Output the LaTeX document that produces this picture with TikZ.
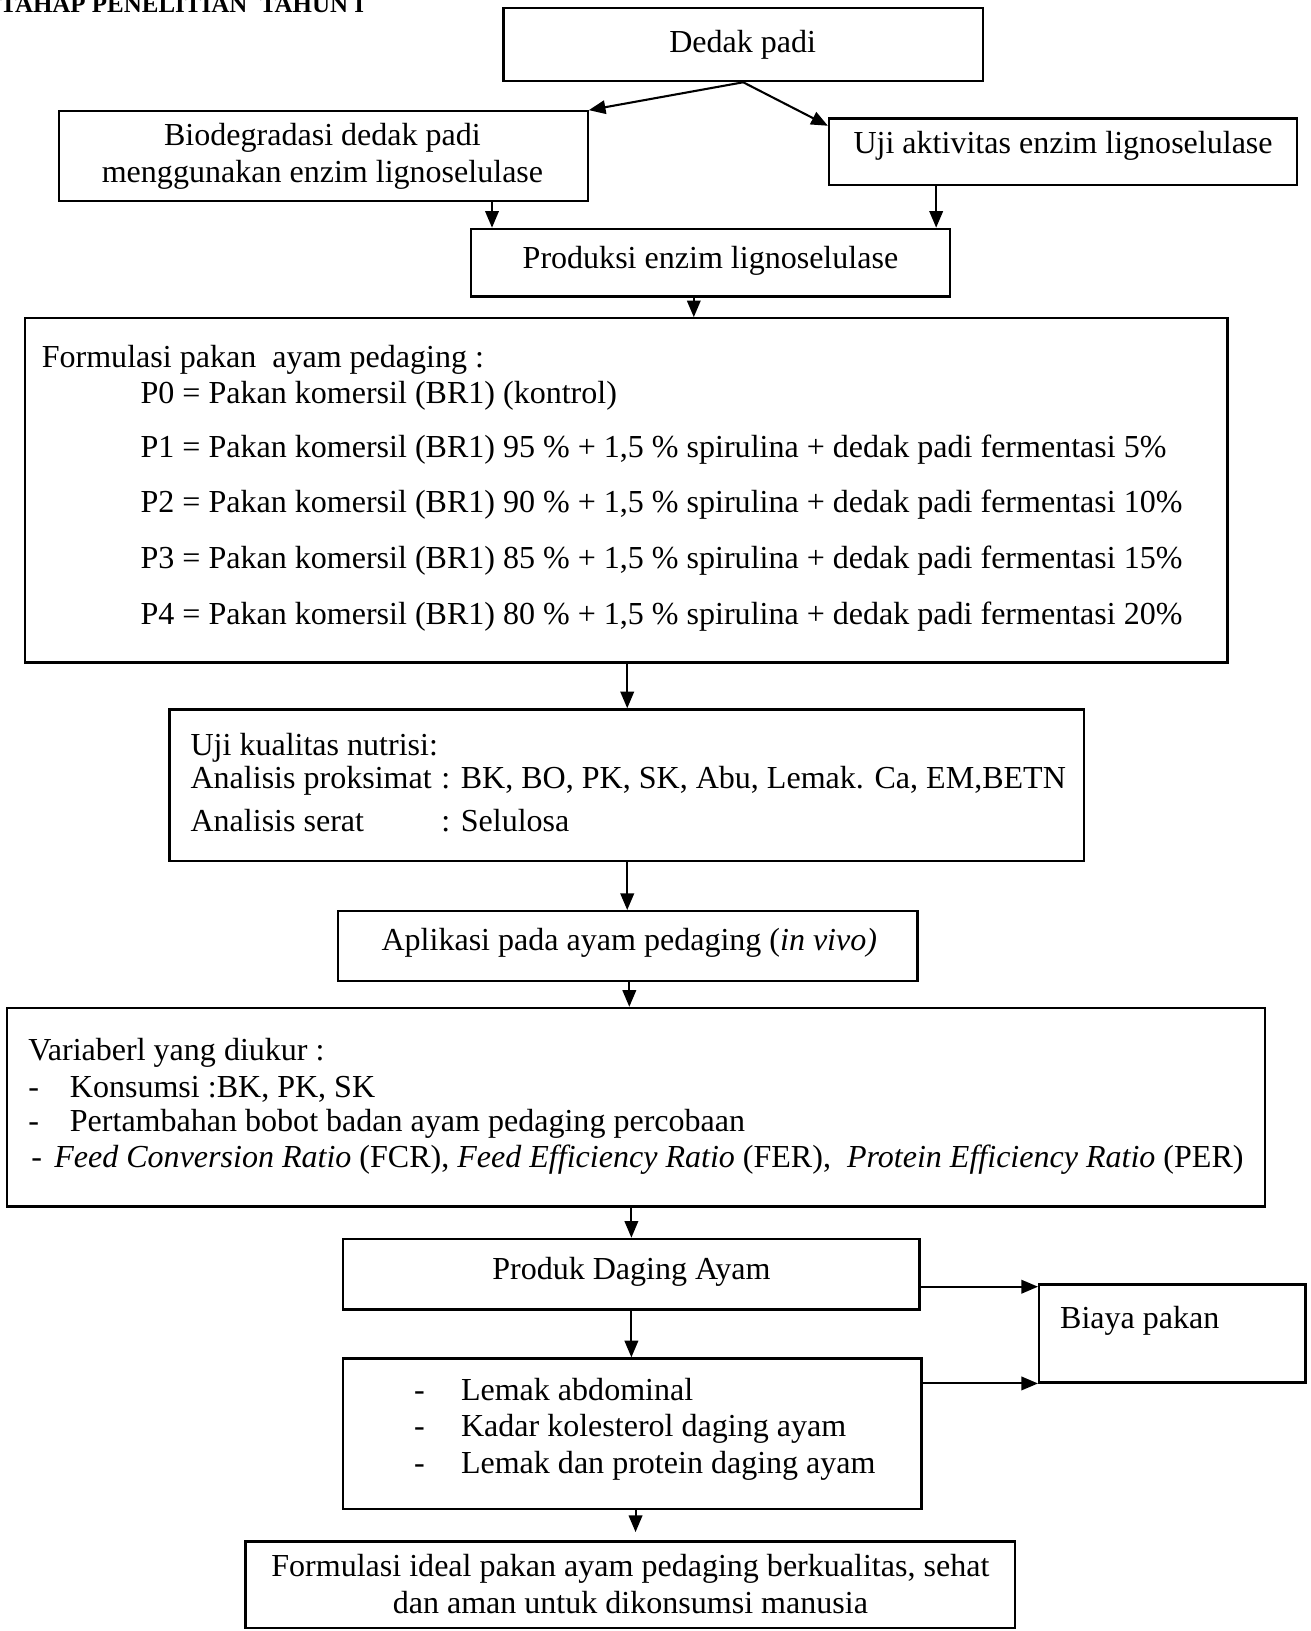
\documentclass[tikz,border=0pt]{standalone}
\usepackage{fontspec}
\setmainfont{Liberation Serif}
\usetikzlibrary{arrows.meta}
\begin{document}
\begin{tikzpicture}[x=1pt,y=-1pt,
  box/.style={draw, line width=2.2pt, inner sep=0pt},
  arr/.style={line width=2pt, -{Triangle[length=16pt,width=13pt]}},
  txt/.style={inner sep=0pt, font=\fontsize{30.8}{34}\selectfont},
]
\useasboundingbox (0,0) rectangle (1260,1568);

% title (cut at top edge, as in the scan)
\node[inner sep=0pt, anchor=base west, font=\fontsize{24}{26}\selectfont\bfseries] (title) at (0,12) {TAHAP PENELITIAN\ \ TAHUN I};

% boxes
\node[box, minimum width=461pt, minimum height=70pt]  (dedak)  at (714.5,43) {};
\node[box, minimum width=508pt, minimum height=86pt]  (bio)    at (311,150) {};
\node[box, minimum width=450pt, minimum height=64pt]  (uji)    at (1022,146) {};
\node[box, minimum width=460pt, minimum height=65pt]  (prod)   at (683,252.5) {};
\node[box, minimum width=1156pt, minimum height=331pt] (form)  at (602,471.5) {};
\node[box, minimum width=879pt, minimum height=146pt] (kual)   at (602.5,755) {};
\node[box, minimum width=557pt, minimum height=67pt]  (apl)    at (603.5,909.5) {};
\node[box, minimum width=1209pt, minimum height=191pt] (var)   at (611.5,1064.5) {};
\node[box, minimum width=554pt, minimum height=68pt]  (daging) at (607,1225) {};
\node[box, minimum width=256pt, minimum height=94pt]  (biaya)  at (1127,1282) {};
\node[box, minimum width=556pt, minimum height=145pt] (lemak)  at (608,1378.5) {};
\node[box, minimum width=740pt, minimum height=83pt]  (ideal)  at (606,1523.5) {};

% texts
\node[txt, anchor=base] (tdedak) at (714,50) {Dedak padi};
\node[txt, anchor=base] (tbio1) at (310,140) {Biodegradasi dedak padi};
\node[txt, anchor=base] (tbio2) at (310,175) {menggunakan enzim lignoselulase};
\node[txt, anchor=base] (tuji) at (1022,148) {Uji aktivitas enzim lignoselulase};
\node[txt, anchor=base] (tprod) at (683,258) {Produksi enzim lignoselulase};

\node[txt, anchor=base west] (tf0) at (40,353) {Formulasi pakan\ \ ayam pedaging :};
\node[txt, anchor=base west] (tf1) at (135,388) {P0 = Pakan komersil (BR1) (kontrol)};
\node[txt, anchor=base west] (tf2) at (135,440) {P1 = Pakan komersil (BR1) 95 \% + 1,5 \% spirulina + dedak padi fermentasi 5\%};
\node[txt, anchor=base west] (tf3) at (135,493) {P2 = Pakan komersil (BR1) 90 \% + 1,5 \% spirulina + dedak padi fermentasi 10\%};
\node[txt, anchor=base west] (tf4) at (135,547) {P3 = Pakan komersil (BR1) 85 \% + 1,5 \% spirulina + dedak padi fermentasi 15\%};
\node[txt, anchor=base west] (tf5) at (135,600) {P4 = Pakan komersil (BR1) 80 \% + 1,5 \% spirulina + dedak padi fermentasi 20\%};

\node[txt, anchor=base west] (tk1) at (183,726) {Uji kualitas nutrisi:};
\node[txt, anchor=base west] (tk2) at (183,758) {Analisis proksimat};
\node[txt, anchor=base west] (tk2b) at (424,758) {: BK, BO, PK, SK, Abu, Lemak. Ca, EM,BETN};
\node[txt, anchor=base west] (tk3) at (183,799) {Analisis serat};
\node[txt, anchor=base west] (tk3b) at (424,799) {: Selulosa};

\node[txt, anchor=base] (tapl) at (605,914) {Aplikasi pada ayam pedaging (\textit{in vivo)}};

\node[txt, anchor=base west] (tv0) at (27,1020) {Variaberl yang diukur :};
\node[txt, anchor=base west] (tv1d) at (27,1055) {-};
\node[txt, anchor=base west] (tv1) at (67,1055) {Konsumsi :BK, PK, SK};
\node[txt, anchor=base west] (tv2d) at (27,1088) {-};
\node[txt, anchor=base west] (tv2) at (67,1088) {Pertambahan bobot badan ayam pedaging percobaan};
\node[txt, anchor=base west] (tv3d) at (30,1122) {-};
\node[txt, anchor=base west] (tv3) at (52,1122) {\textit{Feed Conversion Ratio} (FCR), \textit{Feed Efficiency Ratio} (FER),\ \ \textit{Protein Efficiency Ratio} (PER)};

\node[txt, anchor=base] (tdaging) at (607,1230) {Produk Daging Ayam};
\node[txt, anchor=base west] (tbiaya) at (1019,1277) {Biaya pakan};

\node[txt, anchor=base west] (tl1d) at (398,1346) {-};
\node[txt, anchor=base west] (tl1) at (443,1346) {Lemak abdominal};
\node[txt, anchor=base west] (tl2d) at (398,1381) {-};
\node[txt, anchor=base west] (tl2) at (443,1381) {Kadar kolesterol daging ayam};
\node[txt, anchor=base west] (tl3d) at (398,1417) {-};
\node[txt, anchor=base west] (tl3) at (443,1417) {Lemak dan protein daging ayam};

\node[txt, anchor=base] (ti1) at (606,1516) {Formulasi ideal pakan ayam pedaging berkualitas, sehat};
\node[txt, anchor=base] (ti2) at (606,1551) {dan aman untuk dikonsumsi manusia};

% connectors
\draw[arr] (dedak.south) -- (bio.north east);
\draw[arr] (dedak.south) -- ([yshift=-8pt]uji.north west);
\draw[arr] (bio.south -| 473,0) -- (prod.north -| 473,0);
\draw[arr] (uji.south -| 900,0) -- (prod.north -| 900,0);
\draw[arr] (prod.south -| 667,0) -- (form.north -| 667,0);
\draw[arr] (form.south -| 603,0) -- (kual.north -| 603,0);
\draw[arr] (kual.south -| 603,0) -- (apl.north -| 603,0);
\draw[arr] (apl.south -| 605,0) -- (var.north -| 605,0);
\draw[arr] (var.south -| 607,0) -- (daging.north -| 607,0);
\draw[arr] (daging.south -| 607,0) -- (lemak.north -| 607,0);
\draw[arr] (lemak.south -| 611,0) -- ([yshift=8pt]ideal.north -| 611,0);
\draw[arr] (daging.east |- 0,1237) -- (biaya.west |- 0,1237);
\draw[arr] (lemak.east |- 0,1330) -- (biaya.west |- 0,1330);
\end{tikzpicture}
\end{document}
